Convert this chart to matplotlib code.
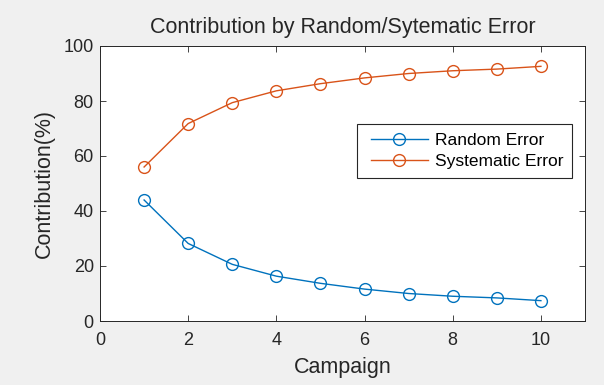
import matplotlib
matplotlib.use("Agg")
import matplotlib.pyplot as plt
from matplotlib.legend_handler import HandlerLine2D

campaign = [1, 2, 3, 4, 5, 6, 7, 8, 9, 10]
random_err = [44.0, 28.2, 20.6, 16.3, 13.7, 11.6, 10.0, 9.0, 8.4, 7.4]
systematic_err = [56.0, 71.8, 79.4, 83.7, 86.3, 88.4, 90.0, 91.0, 91.6, 92.6]
xticks = [0, 2, 4, 6, 8, 10]
yticks = [0, 20, 40, 60, 80, 100]

plt.rcParams['font.family'] = ['Liberation Sans', 'DejaVu Sans']

fig = plt.figure(figsize=(6.04, 3.85), dpi=100, facecolor='#f0f0f0')
ax = fig.add_axes([100/604, 1-321/385, 485/604, 275/385])
ax.set_facecolor('white')

l1, = ax.plot(campaign, random_err, '-o', color='#0072BD', mfc='none', ms=8.5, lw=1.0, mew=1.0, label='Random Error')
l2, = ax.plot(campaign, systematic_err, '-o', color='#D95319', mfc='none', ms=8.5, lw=1.0, mew=1.0, label='Systematic Error')

ax.set_xlim(0, 11)
ax.set_ylim(0, 100)
ax.set_xticks(xticks)
ax.set_yticks(yticks)
ax.tick_params(direction='in', top=True, right=True, length=4, width=0.6, labelsize=13, colors='#262626')
ax.tick_params(axis='x', pad=8)
ax.tick_params(axis='y', pad=4.5)
for s in ax.spines.values():
    s.set_color('#262626')
    s.set_linewidth(0.7)

ax.set_title('Contribution by Random/Sytematic Error', fontsize=15.5, color='#262626', pad=9)
ax.set_xlabel('Campaign', fontsize=15.5, color='#262626', labelpad=6)
ax.set_ylabel('Contribution(%)', fontsize=15.5, color='#262626', labelpad=6)

hm = {l1: HandlerLine2D(xpad=0.29), l2: HandlerLine2D(xpad=0.29)}
leg = ax.legend(handler_map=hm, loc='upper left', bbox_to_anchor=((357-100)/485, (321-124)/275),
                fancybox=False, edgecolor='#262626', framealpha=1, fontsize=12.5,
                handlelength=3.56, borderpad=0.52, labelspacing=0.32, handletextpad=0.4,
                borderaxespad=0)
leg.get_frame().set_linewidth(0.8)

fig.savefig('out.png', dpi=100, facecolor=fig.get_facecolor())
